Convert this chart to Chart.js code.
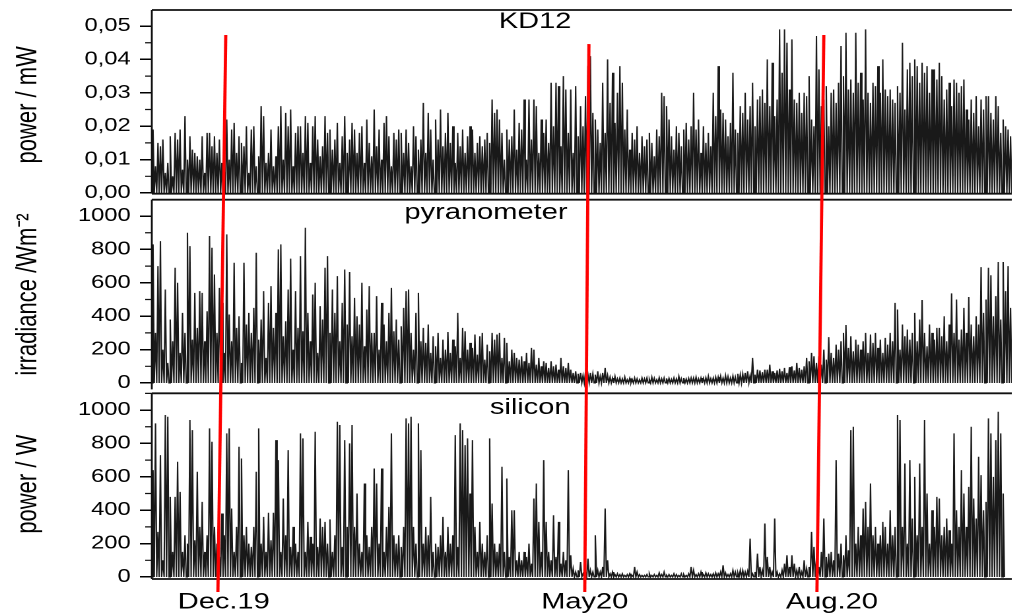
<!DOCTYPE html>
<html>
<head>
<meta charset="utf-8">
<script src="https://cdn.jsdelivr.net/npm/chart.js@4"></script>
<style>
  body { margin: 0; background: #fff; }
  /* the reference is stretched horizontally, so the whole chart is too */
  #wrap { width: 769px; height: 616px; transform: scaleX(1.32); transform-origin: 0 0; }
</style>
</head>
<body>
<div id="wrap"><canvas id="chart" width="769" height="616"></canvas></div>
<script>
// one peak per day, day 0 = start of Nov 2019
const kd12MicroW = [
  19, 8, 15, 14, 16, 6, 9, 17, 5, 18,
  16, 19, 7, 23, 10, 17, 13, 12, 11, 10,
  17, 6, 18, 18, 14, 17, 12, 16, 9, 7,
  22, 10, 19, 21, 12, 17, 15, 14, 20, 6,
  19, 20, 8, 11, 26, 23, 9, 12, 19, 8,
  11, 20, 26, 10, 24, 20, 25, 8, 18, 20,
  20, 12, 23, 21, 9, 20, 23, 16, 11, 14,
  23, 18, 19, 13, 16, 21, 9, 17, 23, 12,
  16, 21, 19, 12, 18, 20, 9, 22, 15, 11,
  25, 14, 19, 10, 21, 23, 17, 8, 18, 16,
  19, 18, 12, 19, 15, 8, 20, 17, 13, 16,
  27, 12, 24, 19, 10, 22, 16, 25, 14, 18,
  24, 15, 20, 9, 18, 14, 19, 12, 17, 20,
  19, 12, 15, 17, 14, 16, 18, 15, 28, 24,
  25, 22, 18, 10, 19, 16, 17, 25, 13, 21,
  19, 28, 10, 28, 16, 28, 26, 12, 22, 18,
  22, 15, 33, 20, 33, 32, 14, 35, 31, 18,
  31, 12, 32, 17, 26, 20, 29, 38, 41, 24,
  22, 19, 15, 33, 18, 40, 27, 36, 21, 30,
  38, 33, 19, 25, 13, 18, 16, 20, 12, 17,
  14, 16, 18, 15, 11, 19, 17, 30, 29, 26,
  22, 17, 13, 20, 18, 14, 19, 21, 16, 20,
  30, 19, 22, 12, 20, 15, 18, 14, 30, 23,
  38, 25, 24, 22, 17, 21, 36, 19, 18, 26,
  24, 30, 22, 26, 33, 20, 28, 29, 31, 27,
  40, 26, 39, 23, 28, 49, 36, 49, 45, 31,
  46, 28, 27, 30, 24, 30, 29, 35, 22, 20,
  47, 37, 26, 28, 32, 20, 30, 31, 27, 33,
  44, 35, 48, 31, 34, 30, 48, 33, 36, 28,
  49, 30, 27, 33, 32, 38, 30, 40, 31, 29,
  31, 28, 27, 32, 30, 45, 25, 37, 39, 35,
  40, 38, 33, 39, 36, 38, 30, 37, 37, 34,
  39, 35, 28, 31, 33, 26, 34, 33, 30, 32,
  34, 25, 22, 28, 24, 29, 20, 28, 25, 29,
  29, 24, 22, 29, 26, 18, 22, 20, 19, 17
];

const pyranometer = [
  830, 300, 700, 850, 200, 560, 120, 380, 250, 690,
  600, 180, 420, 300, 900, 820, 260, 540, 330, 550,
  540, 250, 430, 880, 810, 650, 300, 570, 480, 180,
  890, 410, 250, 720, 330, 400, 120, 720, 350, 420,
  300, 450, 780, 260, 380, 550, 150, 480, 580, 330,
  420, 800, 830, 280, 370, 560, 745, 200, 550, 330,
  760, 310, 930, 420, 250, 530, 600, 180, 460, 380,
  690, 760, 300, 560, 420, 640, 250, 480, 680, 350,
  665, 280, 510, 400, 350, 600, 220, 440, 580, 300,
  300, 520, 200, 480, 350, 250, 420, 570, 310, 380,
  260, 340, 450, 550, 560, 300, 200, 420, 540, 250,
  330, 240, 350, 180, 280, 220, 300, 150, 260, 200,
  305, 180, 260, 220, 420, 150, 330, 310, 200, 240,
  210, 290, 170, 280, 300, 140, 230, 190, 300, 260,
  290, 300, 150, 270, 240, 130, 200, 180, 150, 140,
  160, 130, 180, 120, 210, 200, 110, 150, 100, 130,
  120, 90, 130, 100, 110, 80, 150, 100, 90, 120,
  80, 60, 70, 55, 60, 45, 65, 50, 60, 55,
  50, 70, 40, 60, 90, 45, 35, 30, 40, 25,
  30, 25, 35, 20, 28, 22, 30, 25, 20, 30,
  25, 30, 22, 35, 28, 20, 32, 25, 30, 28,
  28, 22, 30, 25, 40, 26, 30, 24, 28, 30,
  30, 35, 25, 30, 28, 32, 40, 26, 30, 35,
  35, 40, 30, 45, 38, 30, 42, 35, 55, 50,
  55, 60, 70, 45, 150, 50, 80, 75, 65, 80,
  80, 110, 70, 60, 75, 85, 70, 90, 60, 95,
  100, 75, 120, 90, 80, 100, 150, 130, 180, 160,
  120, 160, 110, 200, 140, 275, 180, 150, 230, 200,
  250, 300, 347, 210, 280, 190, 260, 230, 200, 250,
  300, 180, 290, 240, 300, 210, 260, 180, 270, 230,
  300, 250, 480, 440, 200, 350, 280, 320, 260, 300,
  420, 250, 380, 497, 300, 220, 350, 300, 260, 330,
  330, 280, 400, 250, 350, 537, 300, 500, 260, 320,
  450, 300, 515, 350, 280, 400, 350, 694, 420, 500,
  690, 645, 400, 520, 725, 380, 725, 550, 700, 450
];

const silicon = [
  640, 920, 270, 730, 100, 970, 960, 480, 150, 480,
  690, 510, 150, 250, 200, 940, 880, 220, 630, 300,
  450, 150, 250, 890, 810, 300, 200, 120, 380, 250,
  860, 890, 410, 150, 300, 780, 710, 250, 300, 200,
  180, 300, 630, 890, 200, 360, 150, 385, 220, 385,
  820, 700, 150, 470, 250, 760, 180, 300, 200, 150,
  860, 830, 150, 330, 240, 200, 870, 180, 350, 300,
  330, 200, 345, 150, 250, 930, 910, 180, 820, 300,
  800, 910, 300, 500, 200, 150, 560, 250, 180, 300,
  650, 560, 200, 650, 150, 300, 420, 860, 250, 200,
  250, 180, 300, 950, 920, 960, 300, 200, 920, 760,
  200, 300, 250, 480, 150, 200, 180, 250, 360, 150,
  300, 200, 250, 850, 180, 920, 880, 790, 830, 500,
  820, 300, 150, 330, 200, 150, 250, 830, 440, 200,
  150, 200, 660, 150, 590, 120, 400, 400, 100, 150,
  100, 150, 120, 200, 80, 470, 560, 330, 150, 700,
  330, 150, 100, 370, 120, 330, 80, 150, 100, 640,
  130, 50, 30, 40, 90, 20, 30, 110, 40, 30,
  250, 40, 30, 60, 410, 100, 20, 30, 15, 20,
  15, 20, 10, 15, 20, 10, 60, 30, 15, 10,
  10, 15, 20, 10, 15, 10, 25, 15, 30, 10,
  15, 10, 20, 15, 10, 20, 15, 10, 20, 60,
  40, 15, 20, 30, 15, 25, 20, 15, 20, 25,
  20, 30, 70, 25, 15, 20, 40, 30, 25, 40,
  40, 30, 35, 230, 20, 30, 140, 60, 40, 320,
  120, 60, 30, 350, 30, 20, 40, 80, 130, 60,
  130, 80, 40, 60, 30, 100, 50, 60, 270, 180,
  100, 60, 150, 350, 120, 140, 150, 100, 700, 140,
  200, 130, 250, 160, 880, 900, 200, 300, 250, 410,
  450, 300, 560, 250, 300, 200, 250, 330, 300, 200,
  400, 250, 300, 970, 940, 300, 680, 200, 700, 350,
  600, 250, 680, 300, 940, 500, 200, 400, 300, 480,
  470, 250, 300, 350, 280, 200, 860, 400, 300, 640,
  500, 300, 540, 900, 470, 350, 720, 610, 400, 450,
  950, 860, 600, 820, 990, 860, 500, null, null, null
];

const tickDays = [29.3, 176.2, 276.8];
const tickLabels = ['Dec.19', 'May20', 'Aug.20'];
const kd12Ticks = [0, 0.01, 0.02, 0.03, 0.04, 0.05];
const irradianceTicks = [0, 200, 400, 600, 800, 1000];
const siliconTicks = [0, 200, 400, 600, 800, 1000];

const panelIds = ['yK', 'yP', 'yS'];
const panelTitles = ['KD12', 'pyranometer', 'silicon'];
const titleDays = [156, 136, 154];
const titleValues = [0.0512, 1018, 1012];

// red marker lines: from the top panel down past the bottom axis
const markTopDays = [30.1, 177.9, 273.5];
const markTopKD12 = [0.0473, 0.0446, 0.0473];
const markBottomDays = [26.9, 176.2, 270.7];
const markBottomSilicon = -90;

// [top inset, bottom inset, draw bottom line]
const frameInsets = [[0, 6, true], [0, 0, false], [4, 0, true]];

const FONT = '"Liberation Sans", Arial, sans-serif';
Chart.defaults.font.family = FONT;
Chart.defaults.color = '#000';

function spikePoints(values, unit) {
  const pts = [];
  values.forEach((v, d) => {
    pts.push({ x: d, y: 0 });
    pts.push({ x: d + 0.5, y: v === null ? null : v * unit });
  });
  pts.push({ x: values.length, y: 0 });
  return pts;
}

function panelAxis(min, max, majors, weight, title, fmt) {
  return {
    type: 'linear',
    position: 'left',
    stack: 'panels',
    stackWeight: 1,
    weight: weight,
    min: min,
    max: max,
    bounds: 'data',
    grid: { display: true, drawOnChartArea: false, drawTicks: true, tickLength: 9, color: '#000', lineWidth: 1.5 },
    border: { display: false },
    afterBuildTicks: s => { s.ticks = majors.map(v => ({ value: v })); },
    ticks: { autoSkip: false, padding: 7, font: { size: 18 }, callback: fmt },
    title: { display: true, text: title, font: { size: 22 }, padding: { top: 8, bottom: 0 } },
    afterFit: s => {
      s.width = 115;
      s.paddingTop = 0;
      s.paddingBottom = 0;
    }
  };
}

const panelMajors = [kd12Ticks, irradianceTicks, siliconTicks];

const panelDecor = {
  id: 'panelDecor',
  afterDraw(chart) {
    const ctx = chart.ctx;
    const xs = chart.scales.x;
    const area = chart.chartArea;
    ctx.save();
    panelIds.forEach((id, i) => {
      const s = chart.scales[id];
      const top = s.top + frameInsets[i][0];
      const bottom = s.bottom - frameInsets[i][1];
      ctx.strokeStyle = '#111';
      ctx.lineWidth = 1.8;
      ctx.beginPath();
      ctx.moveTo(area.left, top);
      ctx.lineTo(area.right, top);
      if (frameInsets[i][2]) {
        ctx.moveTo(area.left, bottom);
        ctx.lineTo(area.right, bottom);
      }
      ctx.stroke();
      ctx.lineWidth = 1.4;
      ctx.beginPath();
      ctx.moveTo(area.left, top);
      ctx.lineTo(area.left, bottom);
      ctx.stroke();

      // minor ticks halfway between the labelled ones
      const majors = panelMajors[i];
      const half = (majors[1] - majors[0]) / 2;
      ctx.lineWidth = 1.2;
      ctx.beginPath();
      majors.forEach(v => {
        if (v + half < s.max) {
          const y = s.getPixelForValue(v + half);
          ctx.moveTo(area.left - 5, y);
          ctx.lineTo(area.left, y);
        }
      });
      ctx.stroke();

      ctx.fillStyle = '#000';
      ctx.font = '22px ' + FONT;
      ctx.textAlign = 'center';
      ctx.textBaseline = 'middle';
      ctx.fillText(panelTitles[i], xs.getPixelForValue(titleDays[i]), s.getPixelForValue(titleValues[i]));
    });

    const yTop = chart.scales.yK;
    const yBot = chart.scales.yS;
    ctx.strokeStyle = '#f00';
    ctx.lineWidth = 2.4;
    markTopDays.forEach((d, i) => {
      ctx.beginPath();
      ctx.moveTo(xs.getPixelForValue(d), yTop.getPixelForValue(markTopKD12[i]));
      ctx.lineTo(xs.getPixelForValue(markBottomDays[i]), yBot.getPixelForValue(markBottomSilicon));
      ctx.stroke();
    });
    ctx.restore();
  }
};

const lineStyle = { borderColor: 'rgba(0,0,0,0.9)', borderWidth: 1.05, pointRadius: 0, tension: 0, spanGaps: false };

const chart = new Chart(document.getElementById('chart').getContext('2d'), {
  type: 'line',
  data: {
    datasets: [
      Object.assign({ label: 'KD12', data: spikePoints(kd12MicroW, 0.001), yAxisID: 'yK' }, lineStyle),
      Object.assign({ label: 'pyranometer', data: spikePoints(pyranometer, 1), yAxisID: 'yP' }, lineStyle),
      Object.assign({ label: 'silicon', data: spikePoints(silicon, 1), yAxisID: 'yS' }, lineStyle)
    ]
  },
  options: {
    responsive: false,
    devicePixelRatio: 2,
    animation: false,
    parsing: false,
    layout: { padding: { top: 10, right: 2.5, left: 0, bottom: 0 } },
    plugins: { legend: { display: false }, tooltip: { enabled: false } },
    scales: {
      x: {
        type: 'linear',
        min: 0,
        max: kd12MicroW.length,
        bounds: 'data',
        grid: { display: false, drawTicks: false },
        border: { display: false },
        afterBuildTicks: s => { s.ticks = tickDays.map(v => ({ value: v })); },
        ticks: { autoSkip: false, maxRotation: 0, minRotation: 0, padding: 10, font: { size: 22 },
          callback: (v, i) => tickLabels[i] },
        afterFit: s => {
          s.height = 37;
          s.paddingLeft = 0;
          s.paddingRight = 0;
        }
      },
      yK: panelAxis(-0.002, 0.0548, kd12Ticks, 3, 'power / mW', v => v.toFixed(2).replace('.', ',')),
      yP: panelAxis(-38, 1098, irradianceTicks, 2, 'irradiance /Wm\u207B\u00B2', v => String(v)),
      yS: panelAxis(-12, 1124, siliconTicks, 1, 'power / W', v => String(v))
    }
  },
  plugins: [panelDecor]
});
</script>
</body>
</html>
